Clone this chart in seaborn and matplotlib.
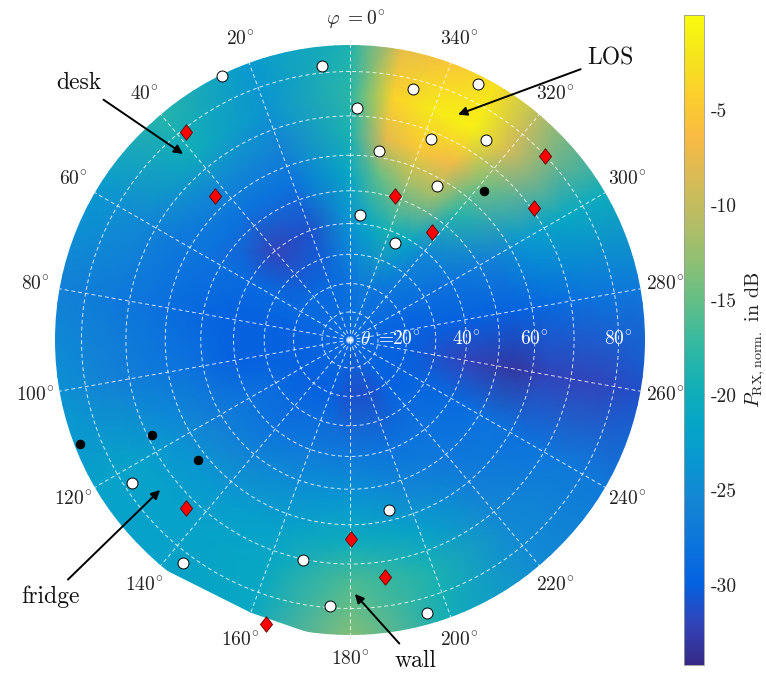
import numpy as np
import matplotlib
matplotlib.use("Agg")
import matplotlib.pyplot as plt
import seaborn as sns
from matplotlib.colors import LinearSegmentedColormap
from matplotlib.patches import Circle

sns.set_theme(style="white")
plt.rcParams["font.family"] = ["cmr10", "DejaVu Serif"]
plt.rcParams["mathtext.fontset"] = "cm"
plt.rcParams["axes.unicode_minus"] = False

# ---------------- data ----------------
# azimuth columns of the power map (deg), polar rows (deg)
phi_cols = [0, 20, 40, 60, 80, 100, 120, 140, 160, 180, 200, 220, 240, 260, 280, 300, 320, 330, 340, 350]
theta_rows = [0, 20, 40, 55, 65, 75]
# outer row of the map (the lower-left part is cut short)
theta_edge = [87.5, 87.5, 87.5, 87.5, 87.5, 87.5, 87.5, 85.5, 84.3, 87.5,
              87.5, 87.5, 87.5, 87.5, 87.5, 87.5, 87.5, 87.5, 87.5, 87.5]
theta_clip = 85.3  # measured outer extent of the map

p_center = -29.0
p_t20 = [-28, -29, -29, -29, -30, -30, -30, -30, -30, -31, -31, -30, -30, -30, -30, -29, -28, -28, -27, -27]
p_t40 = [-24, -31, -32, -29, -30, -30, -28, -28, -27, -27, -28, -28, -29, -32, -30, -28, -25, -21, -19, -21]
p_t55 = [-21, -28, -28, -28, -29, -28, -26, -25, -24, -23, -25, -27, -28, -33, -30, -26, -18, -12, -12, -15]
p_t65 = [-19, -26, -25, -27, -28, -27, -24, -23, -22, -20, -22, -26, -28, -32, -29, -23, -14, -7, -5, -8]
p_t75 = [-18, -24, -20, -25, -27, -26, -22, -22, -21, -16, -19, -25, -27, -32, -28, -21, -9, -1, -1.5, -4]
p_edge = [-19, -23, -18, -23, -26, -24, -22, -22, -21, -13, -20, -25, -27, -31, -27, -20, -11, -3, -6, -8]

# measurement positions (phi, theta) in deg
white_phi = [25.9, 5.8, 345.9, 333.4, 358.3, 338.1, 325.8, 351.3, 330.5, 355.4, 335.1,
             123.3, 143.2, 167.9, 192.9, 175.7, 195.8]
white_theta = [85.0, 81.4, 77.9, 83.6, 71.9, 68.2, 74.2, 61.7, 57.9, 42.8, 36.9,
               78.3, 82.1, 70.2, 57.2, 79.6, 83.1]
red_phi = [38.3, 43.2, 342.6, 322.8, 313.3, 305.7, 135.7, 180.3, 163.5, 188.4]
red_theta = [79.2, 63.3, 50.5, 45.9, 79.9, 70.6, 72.5, 63.7, 85.6, 73.7]
black_phi = [318.0, 111.0, 115.6, 128.3]
black_theta = [64.1, 84.2, 68.9, 62.4]

# annotations: text, arrow tip (phi, theta), text centre (figure px from top-left)
ann_text = ["desk", "LOS", "fridge", "wall"]
ann_phi = [41.9, 334.4, 128.3, 181.1]
ann_theta = [76.0, 76.0, 74.2, 76.9]
ann_xy_px = [(79, 83), (611, 58), (50, 597), (415, 661)]

phi_ticks = list(range(0, 360, 20))
theta_ticks = [20, 40, 60, 80]
cbar_ticks = [-30, -25, -20, -15, -10, -5]
vmin, vmax = -34.2, 0.0

# parula-like colormap anchors
parula = [
    [0.2081, 0.1663, 0.5292], [0.1959, 0.2645, 0.7279], [0.0117, 0.3875, 0.8820],
    [0.0498, 0.4586, 0.8641], [0.0793, 0.5200, 0.8312], [0.0343, 0.5966, 0.8199],
    [0.0228, 0.6535, 0.7768], [0.0843, 0.6928, 0.7062], [0.2178, 0.7250, 0.6193],
    [0.3953, 0.7459, 0.5244], [0.5709, 0.7485, 0.4494], [0.7184, 0.7411, 0.3905],
    [0.8507, 0.7299, 0.3360], [0.9739, 0.7314, 0.2666], [0.9880, 0.8066, 0.1794],
    [0.9589, 0.8949, 0.1132], [0.9763, 0.9831, 0.0538]]
cmap = LinearSegmentedColormap.from_list("parula", parula, N=256)

# ---------------- mesh ----------------
ncol = len(phi_cols)
rows = [[p_center] * ncol, p_t20, p_t40, p_t55, p_t65, p_t75, p_edge]
Z = np.array([r + [r[0]] for r in rows], dtype=float)
phi_m = np.deg2rad(np.array(phi_cols + [360], dtype=float))
th_edge = np.array(theta_edge + [theta_edge[0]], dtype=float)
TH = np.vstack([np.full(ncol + 1, t, dtype=float) for t in theta_rows] + [th_edge])
PH = np.tile(phi_m, (TH.shape[0], 1))

W, H = 766, 674
fig = plt.figure(figsize=(W / 100, H / 100), dpi=100)
ax = fig.add_axes([30 / W, 14 / H, 640 / W, 640 / H], projection="polar")
ax.set_theta_zero_location("N")
ax.set_theta_direction(1)


def fwd(t):
    return np.tan(np.deg2rad(np.asarray(t, dtype=float)) / 2)


def inv(u):
    return 2 * np.rad2deg(np.arctan(np.asarray(u, dtype=float)))


ax.set_rscale("function", functions=(fwd, inv))
ax.set_facecolor("white")

mesh = ax.pcolormesh(PH, TH, Z, shading="gouraud", cmap=cmap, vmin=vmin, vmax=vmax, zorder=1)

sns.scatterplot(x=np.deg2rad(white_phi), y=white_theta, ax=ax, marker="o", s=62,
                color="white", edgecolor="black", linewidth=0.7, zorder=5)
diamond = [(0, 1), (0.78, 0), (0, -1), (-0.78, 0), (0, 1)]
sns.scatterplot(x=np.deg2rad(red_phi), y=red_theta, ax=ax, marker=diamond, s=125,
                color="#ff0000", edgecolor="#5a0000", linewidth=0.6, zorder=5)
sns.scatterplot(x=np.deg2rad(black_phi), y=black_theta, ax=ax, marker="o", s=40,
                color="black", edgecolor="black", linewidth=0.5, zorder=5)
ax.set_xlabel("")
ax.set_ylabel("")

ax.set_rlim(0, 90)
clip = Circle((0.5, 0.5), 0.5 * float(fwd(theta_clip) / fwd(90)), transform=ax.transAxes)
mesh.set_clip_path(clip)

ax.set_yticks(list(range(10, 90, 10)))
ax.set_xticks(np.deg2rad(phi_ticks))
ax.set_xticklabels([])
ax.set_yticklabels([])
ax.tick_params(length=0)
ax.grid(True, color="white", linestyle=(0, (4, 3)), linewidth=0.7, alpha=0.8)
ax.set_axisbelow(False)
ax.spines["polar"].set_visible(False)

# azimuth labels
for p in phi_ticks:
    if p == 0:
        ax.annotate(r"$\varphi\ {=}0^{\!\circ}$", xy=(0, 90), xytext=(4, 0),
                    textcoords="offset points", ha="center", va="center",
                    fontsize=14, color="#222222")
    else:
        ax.text(np.deg2rad(p), 90, r"$%d^{\!\circ}$" % p, ha="center", va="center",
                fontsize=14, color="#222222")

# polar-angle labels
for t in theta_ticks:
    ax.text(np.deg2rad(270), t, r"$%d^{\!\circ}$" % t, ha="center", va="center",
            fontsize=14, color="white", zorder=6)
ax.annotate(r"$\theta\ {=}$", xy=(np.deg2rad(270), theta_ticks[0]), xytext=(-9, 0),
            textcoords="offset points", ha="right", va="center", fontsize=14,
            color="white", zorder=6)

for txt, ap, at, (px, py) in zip(ann_text, ann_phi, ann_theta, ann_xy_px):
    ax.annotate(txt, xy=(np.deg2rad(ap), at), xycoords="data",
                xytext=(px / W, 1 - py / H), textcoords="figure fraction",
                ha="center", va="center", fontsize=17, color="#111111", zorder=7,
                arrowprops=dict(arrowstyle="-|>", color="black", lw=1.4,
                                mutation_scale=13, shrinkA=3, shrinkB=0))

# colorbar
cax = fig.add_axes([684 / W, 9 / H, 20 / W, 650 / H])
cb = fig.colorbar(mesh, cax=cax)
cb.set_ticks(cbar_ticks)
cb.set_ticklabels([str(v) for v in cbar_ticks])
cb.ax.tick_params(direction="in", length=4, width=0.6, colors="#333333", labelsize=14,
                  labelcolor="#222222", pad=5)
cb.outline.set_edgecolor("#999999")
cb.outline.set_linewidth(0.6)
fig.text(755 / W, 1 - 340 / H, r"$P_{\mathrm{RX,norm.}}$ in dB", rotation=90,
         ha="center", va="center", fontsize=14.5, color="#222222")

fig.savefig("out.png", dpi=100)
